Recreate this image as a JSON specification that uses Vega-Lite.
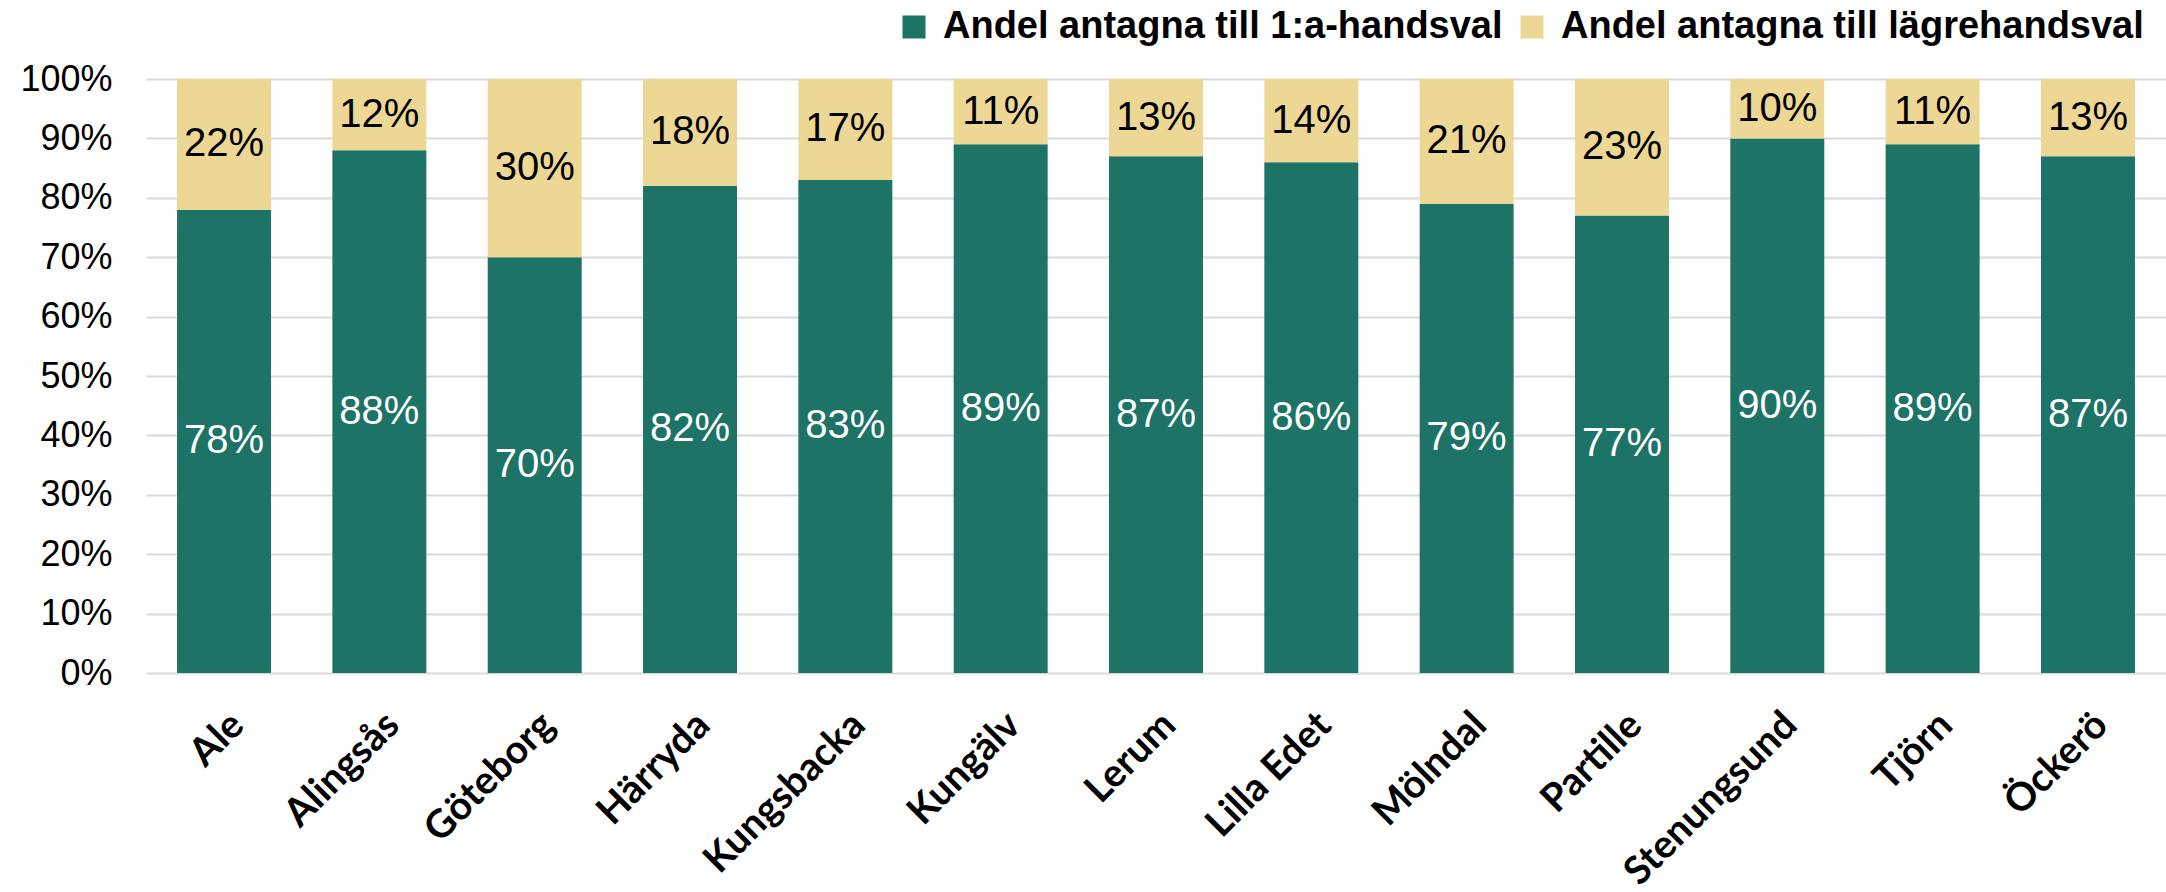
{
  "$schema": "https://vega.github.io/schema/vega-lite/v6.json",
  "width": 2020,
  "height": 594,
  "autosize": {"type": "none"},
  "padding": {"left": 146, "top": 79, "right": 0, "bottom": 219},
  "background": "white",
  "config": {"view": {"stroke": null}},
  "data": {
    "values": [
      {"kommun": "Ale", "serie": "Andel antagna till 1:a-handsval", "ordning": 1, "andel": 0.78},
      {"kommun": "Ale", "serie": "Andel antagna till lägrehandsval", "ordning": 2, "andel": 0.22},
      {"kommun": "Alingsås", "serie": "Andel antagna till 1:a-handsval", "ordning": 1, "andel": 0.88},
      {"kommun": "Alingsås", "serie": "Andel antagna till lägrehandsval", "ordning": 2, "andel": 0.12},
      {"kommun": "Göteborg", "serie": "Andel antagna till 1:a-handsval", "ordning": 1, "andel": 0.70},
      {"kommun": "Göteborg", "serie": "Andel antagna till lägrehandsval", "ordning": 2, "andel": 0.30},
      {"kommun": "Härryda", "serie": "Andel antagna till 1:a-handsval", "ordning": 1, "andel": 0.82},
      {"kommun": "Härryda", "serie": "Andel antagna till lägrehandsval", "ordning": 2, "andel": 0.18},
      {"kommun": "Kungsbacka", "serie": "Andel antagna till 1:a-handsval", "ordning": 1, "andel": 0.83},
      {"kommun": "Kungsbacka", "serie": "Andel antagna till lägrehandsval", "ordning": 2, "andel": 0.17},
      {"kommun": "Kungälv", "serie": "Andel antagna till 1:a-handsval", "ordning": 1, "andel": 0.89},
      {"kommun": "Kungälv", "serie": "Andel antagna till lägrehandsval", "ordning": 2, "andel": 0.11},
      {"kommun": "Lerum", "serie": "Andel antagna till 1:a-handsval", "ordning": 1, "andel": 0.87},
      {"kommun": "Lerum", "serie": "Andel antagna till lägrehandsval", "ordning": 2, "andel": 0.13},
      {"kommun": "Lilla Edet", "serie": "Andel antagna till 1:a-handsval", "ordning": 1, "andel": 0.86},
      {"kommun": "Lilla Edet", "serie": "Andel antagna till lägrehandsval", "ordning": 2, "andel": 0.14},
      {"kommun": "Mölndal", "serie": "Andel antagna till 1:a-handsval", "ordning": 1, "andel": 0.79},
      {"kommun": "Mölndal", "serie": "Andel antagna till lägrehandsval", "ordning": 2, "andel": 0.21},
      {"kommun": "Partille", "serie": "Andel antagna till 1:a-handsval", "ordning": 1, "andel": 0.77},
      {"kommun": "Partille", "serie": "Andel antagna till lägrehandsval", "ordning": 2, "andel": 0.23},
      {"kommun": "Stenungsund", "serie": "Andel antagna till 1:a-handsval", "ordning": 1, "andel": 0.90},
      {"kommun": "Stenungsund", "serie": "Andel antagna till lägrehandsval", "ordning": 2, "andel": 0.10},
      {"kommun": "Tjörn", "serie": "Andel antagna till 1:a-handsval", "ordning": 1, "andel": 0.89},
      {"kommun": "Tjörn", "serie": "Andel antagna till lägrehandsval", "ordning": 2, "andel": 0.11},
      {"kommun": "Öckerö", "serie": "Andel antagna till 1:a-handsval", "ordning": 1, "andel": 0.87},
      {"kommun": "Öckerö", "serie": "Andel antagna till lägrehandsval", "ordning": 2, "andel": 0.13}
    ]
  },
  "transform": [
    {"stack": "andel", "groupby": ["kommun"], "sort": [{"field": "ordning", "order": "ascending"}], "as": ["lo", "hi"]}
  ],
  "encoding": {
    "x": {
      "field": "kommun",
      "type": "nominal",
      "sort": null,
      "scale": {"paddingInner": 0.395, "paddingOuter": 0.2},
      "axis": {
        "title": null,
        "labelAngle": -45,
        "labelFont": "Lato",
        "labelFontWeight": "bold",
        "labelFontSize": 39,
        "labelColor": "black",
        "labelPadding": 32,
        "labelLimit": 1000,
        "ticks": false,
        "domain": false
      }
    }
  },
  "layer": [
    {
      "mark": {"type": "bar"},
      "encoding": {
        "y": {
          "field": "lo",
          "type": "quantitative",
          "scale": {"domain": [0, 1], "nice": false},
          "axis": {
            "title": null,
            "values": [0, 0.1, 0.2, 0.3, 0.4, 0.5, 0.6, 0.7, 0.8, 0.9, 1],
            "format": ".0%",
            "labelFont": "Liberation Sans",
            "labelFontSize": 36,
            "labelColor": "black",
            "labelPadding": 34,
            "ticks": false,
            "domain": false,
            "gridColor": "#d9d9d9",
            "gridWidth": 2
          }
        },
        "y2": {"field": "hi"},
        "color": {
          "field": "serie",
          "type": "nominal",
          "scale": {
            "domain": ["Andel antagna till 1:a-handsval", "Andel antagna till lägrehandsval"],
            "range": ["#1C7366", "#EDD795"]
          },
          "legend": {
            "orient": "none",
            "legendX": 749,
            "legendY": -71,
            "direction": "horizontal",
            "title": null,
            "symbolType": "square",
            "symbolSize": 529,
            "symbolStrokeWidth": 0,
            "symbolOpacity": 1,
            "labelFont": "Liberation Sans",
            "labelFontWeight": "bold",
            "labelFontSize": 38,
            "labelColor": "black",
            "labelOffset": 10,
            "columnPadding": 10,
            "labelLimit": 1000
          }
        }
      }
    },
    {
      "transform": [
        {"fold": ["lo", "hi"], "as": ["kant", "pos"]},
        {"aggregate": [{"op": "mean", "field": "pos", "as": "mid"}], "groupby": ["kommun", "serie", "andel"]}
      ],
      "mark": {"type": "text", "font": "Liberation Sans", "fontSize": 40, "baseline": "middle", "align": "center"},
      "encoding": {
        "y": {"field": "mid", "type": "quantitative"},
        "text": {"field": "andel", "type": "quantitative", "format": ".0%"},
        "color": {
          "condition": {"test": "datum.serie === 'Andel antagna till 1:a-handsval'", "value": "white"},
          "value": "black"
        }
      }
    }
  ]
}
